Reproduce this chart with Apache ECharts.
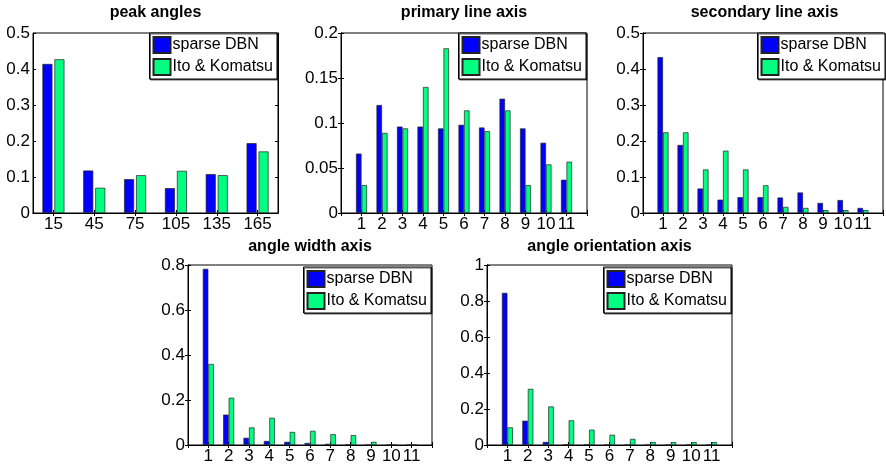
<!DOCTYPE html>
<html><head><meta charset="utf-8">
<script src="https://cdn.jsdelivr.net/npm/echarts@6/dist/echarts.min.js"></script>
<style>html,body{margin:0;padding:0;background:#fff}#c{width:886px;height:465px}</style>
</head><body><div id="c"></div>
<script>
// ---------- data ----------
const seriesNames = ['sparse DBN', 'Ito & Komatsu'];
const peakCategories = ['15', '45', '75', '105', '135', '165'];
const axisCategories = [1, 2, 3, 4, 5, 6, 7, 8, 9, 10, 11];

const peakDBN = [0.414, 0.118, 0.094, 0.069, 0.108, 0.194];
const peakIto = [0.427, 0.070, 0.105, 0.117, 0.105, 0.171];

const primaryDBN = [0.066, 0.120, 0.096, 0.096, 0.094, 0.098, 0.095, 0.127, 0.094, 0.078, 0.037];
const primaryIto = [0.031, 0.089, 0.094, 0.140, 0.183, 0.114, 0.091, 0.114, 0.031, 0.054, 0.057];

const secondaryDBN = [0.433, 0.189, 0.068, 0.037, 0.044, 0.044, 0.043, 0.057, 0.028, 0.036, 0.014];
const secondaryIto = [0.224, 0.224, 0.121, 0.173, 0.121, 0.077, 0.017, 0.014, 0.008, 0.008, 0.008];

const widthDBN = [0.783, 0.135, 0.032, 0.018, 0.014, 0.009, 0.005, 0.002, 0, 0, 0];
const widthIto = [0.360, 0.210, 0.078, 0.121, 0.058, 0.063, 0.048, 0.044, 0.014, 0, 0];

const orientDBN = [0.845, 0.135, 0.017, 0.003, 0.002, 0, 0, 0, 0, 0, 0];
const orientIto = [0.098, 0.312, 0.214, 0.137, 0.085, 0.057, 0.034, 0.016, 0.016, 0.016, 0.016];

const panelTitles = ['peak angles', 'primary line axis', 'secondary line axis', 'angle width axis', 'angle orientation axis'];
const yMaxValues = [0.5, 0.2, 0.5, 0.8, 1];
const yTickSteps = [0.1, 0.05, 0.1, 0.2, 0.2];

// ---------- layout / style ----------
const W = 886;
const layout = [
  {left: 33,  top: 33,  width: 245, height: 180, titleTop: 5,   legendTop: 33},
  {left: 341, top: 33,  width: 246, height: 180, titleTop: 5,   legendTop: 33},
  {left: 643, top: 33,  width: 243, height: 180, titleTop: 5,   legendTop: 33},
  {left: 188, top: 265, width: 244, height: 182, titleTop: 239, legendTop: 267},
  {left: 487, top: 265, width: 245, height: 182, titleTop: 239, legendTop: 267}
];
const FONT = 'Liberation Sans, Arial, Helvetica, sans-serif';
const BLUE = '#0000ff', GREEN = '#00ff80';

const panelData = [
  [peakDBN, peakIto], [primaryDBN, primaryIto], [secondaryDBN, secondaryIto],
  [widthDBN, widthIto], [orientDBN, orientIto]
];

const grid = [], xAxis = [], yAxis = [], series = [], title = [], legend = [];

layout.forEach((L, p) => {
  grid.push({left: L.left, top: L.top, width: L.width, height: L.height,
    show: true, borderColor: '#000', borderWidth: 1, backgroundColor: '#fff', containLabel: false});
  const isPeak = p === 0;
  const tickStyle = {show: true, inside: true, length: 3, lineStyle: {color: '#000', width: 1}};
  const lineStyle = {show: true, lineStyle: {color: '#000', width: 1}};
  if (isPeak) {
    xAxis.push({type: 'category', gridIndex: p, data: peakCategories, position: 'bottom',
      axisLine: lineStyle, axisTick: Object.assign({alignWithLabel: true}, tickStyle),
      axisLabel: {color: '#000', fontSize: 17, fontFamily: FONT, margin: 3}, splitLine: {show: false}});
    xAxis.push({type: 'category', gridIndex: p, data: peakCategories, position: 'top',
      axisLine: lineStyle, axisTick: Object.assign({alignWithLabel: true}, tickStyle),
      axisLabel: {show: false}, splitLine: {show: false}});
  } else {
    const fmt = v => (v >= 1 && v <= 11) ? String(v) : '';
    xAxis.push({type: 'value', gridIndex: p, min: 0, max: 12, interval: 1, position: 'bottom',
      axisLine: lineStyle, axisTick: tickStyle,
      axisLabel: {color: '#000', fontSize: 17, fontFamily: FONT, margin: 3, formatter: fmt, showMinLabel: true, showMaxLabel: true},
      splitLine: {show: false}});
    xAxis.push({type: 'value', gridIndex: p, min: 0, max: 12, interval: 1, position: 'top',
      axisLine: lineStyle, axisTick: tickStyle, axisLabel: {show: false}, splitLine: {show: false}});
  }
  yAxis.push({type: 'value', gridIndex: p, min: 0, max: yMaxValues[p], interval: yTickSteps[p], position: 'left',
    axisLine: lineStyle, axisTick: tickStyle,
    axisLabel: {color: '#000', fontSize: 17, fontFamily: FONT, margin: 3}, splitLine: {show: false}});
  yAxis.push({type: 'value', gridIndex: p, min: 0, max: yMaxValues[p], interval: yTickSteps[p], position: 'right',
    axisLine: lineStyle, axisTick: tickStyle, axisLabel: {show: false}, splitLine: {show: false}});

  const [dbn, ito] = panelData[p];
  const mk = (name, vals, color) => ({
    type: 'bar', name: name, xAxisIndex: 2 * p, yAxisIndex: 2 * p,
    data: isPeak ? vals.slice() : vals.map((v, i) => [axisCategories[i], v]),
    barWidth: isPeak ? 10 : 5.5,
    barGap: isPeak ? '20%' : '0%',
    itemStyle: {color: color, borderColor: '#222', borderWidth: 0.7},
    emphasis: {disabled: true}, animation: false
  });
  series.push(mk(seriesNames[0], dbn, BLUE));
  series.push(mk(seriesNames[1], ito, GREEN));

  title.push({text: panelTitles[p], left: L.left + L.width / 2, top: L.titleTop, textAlign: 'center', padding: 0,
    textStyle: {fontSize: 16, fontWeight: 'bold', fontFamily: FONT, color: '#000'}});

  legend.push({data: seriesNames, orient: 'vertical', right: W - (L.left + L.width) + 1, top: L.legendTop,
    itemWidth: 17, itemHeight: 16, itemGap: 4, padding: [3, 4, 3, 3],
    backgroundColor: '#fff', borderColor: '#000', borderWidth: 1,
    shadowColor: 'rgba(0,0,0,0.6)', shadowOffsetX: 1, shadowOffsetY: 1, shadowBlur: 0,
    icon: 'rect', selectedMode: false,
    textStyle: {fontSize: 16, fontFamily: FONT, color: '#000', padding: [0, 0, 0, -3]}});
});

const chart = echarts.init(document.getElementById('c'), null, {renderer: 'canvas'});
chart.setOption({backgroundColor: '#fff', animation: false, title, legend, grid, xAxis, yAxis, series});
</script></body></html>
